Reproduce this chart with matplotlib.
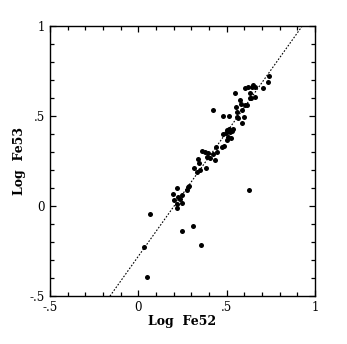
import numpy as np
import matplotlib
matplotlib.use('Agg')
import matplotlib.pyplot as plt
from matplotlib.ticker import MultipleLocator, FixedLocator

# Datos (log Fe52, log Fe53)
log_fe52 = [0.049, 0.034, 0.068, 0.245, 0.308, 0.357, 0.625,
            0.194, 0.217, 0.202, 0.217, 0.217, 0.226, 0.245, 0.245, 0.274, 0.283, 0.289, 0.236,
            0.317, 0.330, 0.343, 0.349, 0.336, 0.358, 0.377, 0.396, 0.387, 0.406, 0.425, 0.434,
            0.443, 0.440, 0.383,
            0.425, 0.477, 0.515,
            0.472, 0.487, 0.481, 0.496, 0.506, 0.500, 0.515, 0.519, 0.528, 0.500, 0.525, 0.534,
            0.547, 0.553, 0.560, 0.557, 0.566, 0.575, 0.585, 0.581, 0.585, 0.600, 0.604, 0.617,
            0.604, 0.623, 0.632, 0.636, 0.642, 0.651, 0.632, 0.660, 0.660, 0.708, 0.736, 0.742]
log_fe53 = [-0.396, -0.226, -0.044, -0.139, -0.109, -0.217, 0.089,
            0.067, 0.098, 0.033, 0.011, -0.013, 0.052, 0.061, 0.015, 0.089, 0.104, 0.113, 0.037,
            0.209, 0.191, 0.241, 0.200, 0.259, 0.307, 0.302, 0.293, 0.274, 0.265, 0.289, 0.256,
            0.302, 0.330, 0.209,
            0.533, 0.500, 0.500,
            0.330, 0.333, 0.398, 0.407, 0.385, 0.420, 0.431, 0.413, 0.419, 0.367, 0.376, 0.431,
            0.626, 0.552, 0.524, 0.496, 0.487, 0.589, 0.533, 0.570, 0.463, 0.493, 0.561, 0.561,
            0.654, 0.659, 0.626, 0.602, 0.659, 0.672, 0.598, 0.607, 0.659, 0.657, 0.691, 0.722]

# Recta de ajuste
fit_slope = 1.38
fit_icpt = -0.279

xticks = [-0.5, 0, 0.5, 1]
xtick_labels = ['-.5', '0', '.5', '1']
yticks = [-0.5, 0, 0.5, 1]
ytick_labels = ['-.5', '0', '.5', '1']

plt.rcParams['font.family'] = ['DejaVu Serif']

fig = plt.figure(figsize=(3.47, 3.44), dpi=100)
ax = fig.add_axes([0.144, 0.1395, 0.764, 0.7845])

xl = np.array([-0.6, 1.1])
ax.plot(xl, fit_slope * xl + fit_icpt, linestyle=(0, (1.5, 1.5)), color='k', linewidth=0.8)
ax.plot(log_fe52, log_fe53, 'o', color='k', markersize=3.6, markeredgewidth=0)

ax.set_xlim(-0.5, 1)
ax.set_ylim(-0.5, 1)

ax.xaxis.set_major_locator(FixedLocator(xticks))
ax.yaxis.set_major_locator(FixedLocator(yticks))
ax.set_xticklabels(xtick_labels)
ax.set_yticklabels(ytick_labels)
ax.xaxis.set_minor_locator(MultipleLocator(0.1))
ax.yaxis.set_minor_locator(MultipleLocator(0.1))
ax.tick_params(which='both', direction='in', top=True, right=True, width=0.9, labelsize=8.5)
ax.tick_params(which='major', length=4.5)
ax.tick_params(which='minor', length=3)
for s in ax.spines.values():
    s.set_linewidth(1.0)

ax.set_xlabel('Log  Fe52', fontsize=9, fontweight='bold', labelpad=1)
ax.set_ylabel('Log  Fe53', fontsize=9, fontweight='bold', labelpad=3)

plt.savefig('out.png', dpi=100)
